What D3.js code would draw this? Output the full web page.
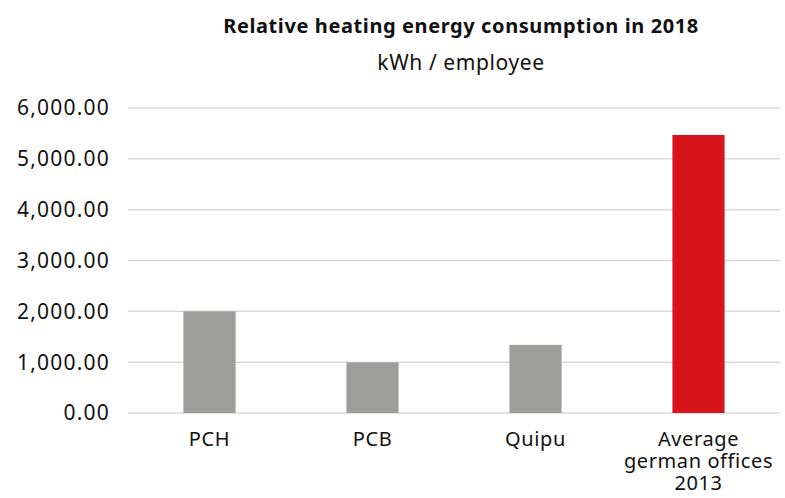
<!DOCTYPE html>
<meta charset="utf-8">
<style>
body { margin: 0; background: #fff; }
text { font-family: "Noto Sans", sans-serif; fill: #111; }
.grid line { stroke: #d9d9d9; stroke-width: 1.5px; }
</style>
<body>
<script src="https://d3js.org/d3.v7.min.js"></script>
<script>

var width = 785,
    height = 498;

// data
var categories = ["PCH", "PCB", "Quipu", "Average\ngerman offices\n2013"];
var values = [2000, 995, 1340, 5470];
var colors = ["#9d9d9c", "#9d9d9c", "#9d9d9c", "#d7141a"];
var ticks = [0, 1000, 2000, 3000, 4000, 5000, 6000];

var margin = {top: 108, right: 5, bottom: 85, left: 128};

var x = d3.scaleBand()
    .domain(categories)
    .range([margin.left, width - margin.right])
    .paddingInner(0.68)
    .paddingOuter(0.34);

var y = d3.scaleLinear()
    .domain([0, 6000])
    .range([height - margin.bottom, margin.top]);

var svg = d3.select("body").append("svg")
    .attr("width", width)
    .attr("height", height);

// gridlines
svg.append("g")
    .attr("class", "grid")
  .selectAll("line")
    .data(ticks).enter()
  .append("line")
    .attr("x1", margin.left)
    .attr("x2", width - margin.right)
    .attr("y1", function(d) { return y(d); })
    .attr("y2", function(d) { return y(d); });

// y tick labels
var fmt = d3.format(",.2f");
svg.append("g")
  .selectAll("text")
    .data(ticks).enter()
  .append("text")
    .attr("x", 110)
    .attr("y", function(d) { return y(d); })
    .attr("dy", "0.35em")
    .attr("text-anchor", "end")
    .style("font-size", "21px")
    .style("letter-spacing", "1.2px")
    .text(function(d) { return fmt(d); });

// bars
svg.append("g")
  .selectAll("rect")
    .data(values).enter()
  .append("rect")
    .attr("x", function(d, i) { return x(categories[i]); })
    .attr("width", x.bandwidth())
    .attr("y", function(d) { return y(d); })
    .attr("height", function(d) { return y(0) - y(d); })
    .attr("fill", function(d, i) { return colors[i]; });

// x labels
var xl = svg.append("g")
  .selectAll("text")
    .data(categories).enter()
  .append("text")
    .attr("text-anchor", "middle")
    .attr("x", function(d) { return x(d) + x.bandwidth() / 2; })
    .attr("y", 446)
    .style("font-size", "20px")
    .style("letter-spacing", "0.6px");

xl.selectAll("tspan")
    .data(function(d) { return d.split("\n"); }).enter()
  .append("tspan")
    .attr("x", function() { var p = this.parentNode; return p.getAttribute("x"); })
    .attr("dy", function(d, i) { return i ? 22 : 0; })
    .text(function(d) { return d; });

// title
var cx = (margin.left + width - margin.right) / 2 + 7;
svg.append("text")
    .attr("x", cx)
    .attr("y", 33)
    .attr("text-anchor", "middle")
    .style("font-size", "20px")
    .style("font-weight", "bold")
    .style("letter-spacing", "0.6px")
    .text("Relative heating energy consumption in 2018");

svg.append("text")
    .attr("x", cx)
    .attr("y", 70)
    .attr("text-anchor", "middle")
    .style("font-size", "21px")
    .style("letter-spacing", "0.6px")
    .text("kWh / employee");

</script>
